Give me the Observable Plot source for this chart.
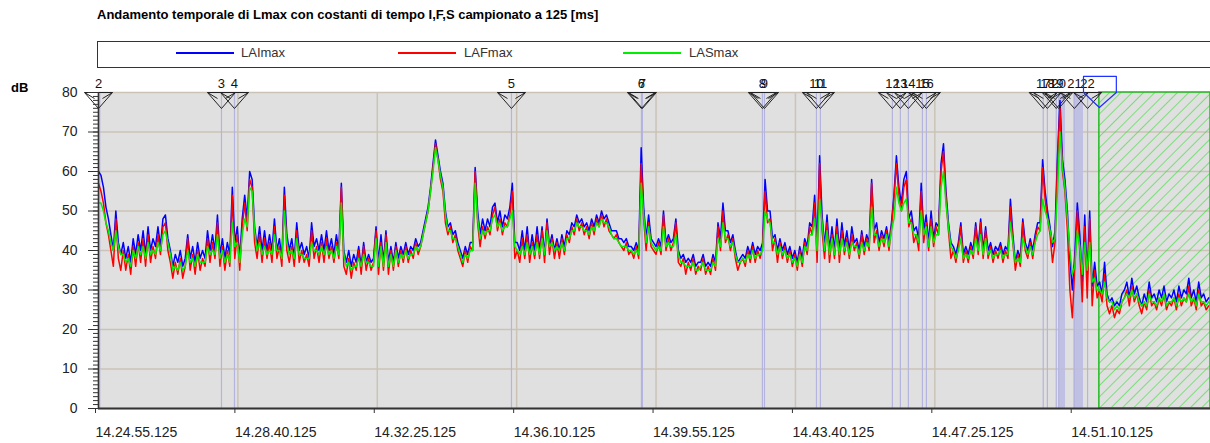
<!DOCTYPE html>
<html><head><meta charset="utf-8">
<script src="https://cdn.jsdelivr.net/npm/d3@7"></script>
<script src="https://cdn.jsdelivr.net/npm/@observablehq/plot@0.6"></script>
<style>
body{margin:0;background:#fff;font-family:"Liberation Sans",Arial,sans-serif;}
#wrap{position:relative;width:1210px;height:443px;overflow:hidden;}
#title{position:absolute;left:97px;top:7px;font-weight:bold;font-size:13px;color:#000;white-space:nowrap;}
#legend{position:absolute;left:97px;top:41px;width:1140px;height:27px;border:1.5px solid #333;box-sizing:border-box;}
.lt{position:absolute;top:3px;font-size:13px;color:#333;white-space:nowrap;}
.sw{position:absolute;top:10px;height:2px;width:58px;}
#db{position:absolute;left:11px;top:80px;font-weight:bold;font-size:13px;color:#000;}
#chart{position:absolute;left:0;top:70px;}
</style></head>
<body>
<div id="wrap">
  <div id="title"></div>
  <div id="legend"></div>
  <div id="db">dB</div>
  <div id="chart"></div>
</div>
<script>
const titleText = "Andamento temporale di Lmax con costanti di tempo I,F,S campionato a 125 [ms]";
const seriesNames = ["LAImax", "LAFmax", "LASmax"];
const seriesColors = ["#0000ff", "#ff0000", "#00ee00"];
const stepSec = 4; // one reading every 4 s, starting at 14.24.55.125

const LAImax = [
60,59,56,51,48,44,40,50,42,39, 42,38,41,37,43,39,44,40,45,39, 46,40,43,41,46,41,48,49,43,40,
36,39,37,40,36,38,44,38,41,37, 42,38,40,38,45,40,44,40,49,39, 43,38,42,39,56,42,46,38,48,54,
48,60,58,46,41,46,40,45,40,44, 40,48,40,43,38,56,44,40,43,38, 47,40,42,39,41,38,47,41,43,40,
44,40,45,40,43,39,44,40,57,40, 37,40,36,39,37,41,36,42,37,39, 37,38,46,37,44,37,45,37,41,37,
42,38,41,39,42,39,41,40,43,41, 42,45,48,51,56,62,68,64,60,57, 50,46,47,44,45,42,40,38,41,39,
42,42,61,50,44,48,45,48,46,51, 52,47,50,46,49,48,51,57,42,42, 40,45,40,46,39,44,40,46,40,46,
39,48,41,44,40,43,40,44,41,45, 44,47,46,49,47,48,46,47,45,48, 46,49,47,50,48,49,47,45,45,45,
43,43,42,43,41,41,40,42,40,66, 51,43,49,43,42,41,43,41,50,42, 44,42,43,48,40,38,39,37,38,37,
39,36,37,37,39,36,37,36,39,37, 47,43,52,45,45,42,44,40,37,38, 39,38,41,39,42,39,41,40,42,58,
50,50,43,44,40,43,40,42,39,41, 38,40,37,41,38,43,41,47,46,54, 41,64,49,41,49,40,46,40,48,40,
47,41,45,40,46,42,43,40,45,41, 44,42,58,45,47,42,45,43,46,42, 47,54,64,56,52,58,60,48,50,45,
46,43,57,45,49,42,50,43,47,46, 62,67,55,47,42,41,39,42,47,39, 41,39,42,40,47,41,48,40,46,40,
42,39,41,40,42,39,41,40,53,44, 37,40,38,48,42,40,43,40,44,47, 47,63,55,50,46,41,45,64,78,63,
58,50,38,30,39,52,44,32,49,33, 50,31,37,31,32,29,37,29,27,28, 26,27,26,29,30,32,28,33,29,31,
28,26,29,27,32,28,29,27,30,28, 31,27,29,28,30,27,31,28,30,29, 33,28,30,27,32,28,29,27,28];
const LAFmax = [
57,55,52,47,44,40,36,48,38,35, 40,35,39,34,41,36,42,37,43,36, 44,37,41,38,44,39,46,47,40,37,
33,37,34,38,33,36,43,35,39,34, 40,35,38,36,43,37,42,38,47,36, 41,35,40,36,54,38,44,35,46,52,
45,58,56,42,38,44,37,43,38,42, 37,46,38,41,36,54,40,37,41,36, 45,37,40,37,39,36,45,38,41,37,
42,37,43,38,41,37,42,38,56,36, 34,38,33,37,35,40,34,41,35,38, 35,37,45,34,42,35,44,34,40,35,
41,36,40,37,41,37,40,38,42,39, 41,44,47,50,55,61,67,63,58,55, 47,44,46,42,44,40,38,36,40,37,
41,40,60,47,41,46,43,46,44,49, 51,45,48,44,47,46,49,55,38,40, 37,43,38,44,37,42,38,44,38,45,
37,47,39,43,38,42,38,43,39,44, 42,46,44,48,45,47,44,46,43,47, 44,48,46,49,46,48,45,44,43,44,
42,41,40,42,39,40,38,41,38,62, 48,40,47,41,40,39,42,39,49,40, 43,40,42,47,37,36,38,34,37,35,
38,34,36,35,38,34,36,34,38,35, 46,40,50,42,44,40,43,38,35,37, 38,36,40,37,41,37,40,38,41,55,
47,48,40,43,37,42,38,41,37,40, 36,39,35,40,36,42,39,46,44,52, 37,62,45,38,47,37,44,38,46,37,
45,39,43,38,44,40,42,38,44,39, 43,40,57,42,45,40,44,41,45,40, 46,53,62,54,50,56,58,46,48,42,
44,40,55,42,47,40,48,41,46,44, 60,65,53,45,38,40,37,41,46,37, 40,37,41,38,46,39,47,38,45,38,
41,37,40,38,41,37,40,38,51,42, 35,39,36,47,40,38,42,38,43,46, 45,61,53,48,44,37,42,62,76,60,
55,45,30,23,36,50,40,27,46,28, 48,26,35,28,30,27,34,26,24,26, 23,25,24,27,28,30,26,31,27,29,
26,24,27,25,30,26,27,25,28,26, 29,25,27,26,28,25,29,26,28,27, 31,26,28,25,30,26,27,25,26];
const LASmax = [
52,52,50,47,45,42,40,45,41,39, 39,37,38,36,40,38,41,39,41,38, 42,39,40,39,42,40,44,45,42,39,
35,36,35,37,35,36,40,37,38,36, 39,37,37,37,41,39,40,39,44,38, 40,37,39,37,47,41,42,37,44,48,
46,56,55,45,40,42,39,41,39,40, 39,44,40,40,38,50,42,39,40,38, 43,39,39,38,38,38,42,40,40,39,
41,39,41,39,40,38,41,39,52,39, 36,37,35,36,36,38,36,39,37,37, 36,36,43,36,41,36,42,36,39,36,
40,37,39,38,40,38,39,39,41,40, 41,44,47,50,55,60,66,63,59,56, 49,45,45,43,43,41,39,37,39,38,
40,40,57,48,43,45,44,45,45,48, 49,46,47,45,46,46,48,50,41,40, 39,41,39,42,39,41,39,42,39,43,
39,45,41,42,40,41,40,42,40,43, 43,45,45,47,46,46,45,45,44,46, 45,47,46,48,47,47,46,44,43,43,
42,41,41,41,40,40,39,40,39,57, 49,42,46,42,41,40,41,40,46,41, 42,41,41,44,39,37,37,36,36,36,
37,35,35,36,37,35,35,35,37,36, 43,41,47,43,43,41,42,39,37,37, 38,37,39,38,40,38,39,39,40,50,
48,47,42,42,39,41,39,40,38,39, 37,38,36,39,37,41,40,44,44,48, 40,53,47,40,45,39,43,39,44,39,
43,40,42,39,42,41,41,39,42,40, 42,41,51,44,44,41,43,42,44,41, 45,48,56,52,50,52,53,47,47,44,
44,42,50,44,46,41,46,42,44,44, 56,60,52,46,41,40,38,40,43,38, 39,38,40,39,43,40,44,39,43,39,
40,38,39,39,40,38,39,39,47,42, 37,38,37,43,41,39,41,39,42,44, 45,53,50,48,45,42,43,55,70,61,
56,48,40,34,36,45,41,34,42,35, 42,32,33,30,30,29,32,28,27,27, 25,26,25,27,28,29,28,30,28,29,
27,26,27,26,29,27,27,26,28,27, 29,26,27,27,28,26,28,27,28,27, 29,27,28,26,29,27,27,26,27];

const yTicks = [0,10,20,30,40,50,60,70,80];
const yMinorTicks = d3.range(0, 81, 1);
const xTicks = [0,225,450,675,900,1125,1350,1575];
const xTickLabels = ["14.24.55.125","14.28.40.125","14.32.25.125","14.36.10.125","14.39.55.125","14.43.40.125","14.47.25.125","14.51.10.125"];
const xEnd = 1795;

// markers: id, start time (s), optional end time (s)
const markerIds = ["2","3","4","5","6","7","8","9","10","11","12","13","14","15","16","17","18","19","20","21","22"];
const markerStart = [0,198.5,219.5,666.6,876.4,878,1071.7,1075,1158.9,1165.3,1281.5,1294.4,1307.3,1330,1336.4,1525,1531.7,1546,1550,1575.3,1596.6];
const markerEnd   = [4,null,null,null,null,null,null,null,null,null,null,null,null,null,null,null,null,null,1561,1590,null];

// excluded (hatched) interval
const hatchStart = 1615.6;
const hatchEnd = 1795;
// selected marker cursor outline (time s, dB)
const cursorT = [1590,1643,1643,1615.6,1590,1590];
const cursorV = [84.1,84.1,80,76.2,80,84.1];

document.getElementById("title").textContent = titleText;
const legend = document.getElementById("legend");
const swLeft = [78, 300, 525], txtLeft = [143, 366, 591];
seriesNames.forEach((n, k) => {
  const s = document.createElement("div");
  s.className = "sw"; s.style.left = swLeft[k] + "px"; s.style.background = seriesColors[k];
  legend.appendChild(s);
  const t = document.createElement("div");
  t.className = "lt"; t.style.left = txtLeft[k] + "px"; t.textContent = n;
  legend.appendChild(t);
});

const rows = [];
[LAImax, LAFmax, LASmax].forEach((arr, k) => arr.forEach((v, i) => rows.push({series: seriesNames[k], t: i * stepSec, v})));
const markers = markerIds.map((id, i) => ({id, t: markerStart[i], t2: markerEnd[i]}));
const bands = markers.filter(m => m.t2 != null);
const cursor = cursorT.map((t, i) => ({t, v: cursorV[i]}));

const vSymbol = {draw(ctx) {
  ctx.moveTo(-14, 0); ctx.lineTo(0, 16); ctx.lineTo(14, 0); ctx.closePath();
  ctx.moveTo(-14, 0); ctx.lineTo(-4, 6);
  ctx.moveTo(14, 0); ctx.lineTo(4, 6);
}};

const plot = Plot.plot({
  width: 1210, height: 373,
  marginTop: 22, marginBottom: 35, marginLeft: 98, marginRight: 0,
  style: {fontFamily: "'Liberation Sans', Arial, sans-serif", fontSize: "14px", color: "#222", background: "transparent", overflow: "visible"},
  x: {domain: [0, xEnd]},
  y: {domain: [0, 80]},
  marks: [
    Plot.frame({fill: "#e0e0e0", stroke: "none"}),
    Plot.gridY(yTicks, {stroke: "#cbc3b6", strokeOpacity: 1, strokeWidth: 1.5}),
    Plot.gridX(xTicks, {stroke: "#cbc3b6", strokeOpacity: 1, strokeWidth: 1.5}),
    Plot.rect([{a: hatchStart, b: hatchEnd}], {x1: "a", x2: "b", y1: () => 0, y2: () => 80, fill: "url(#hatch)", stroke: "#22bb22", strokeWidth: 1.5}),
    Plot.rect(bands, {x1: "t", x2: "t2", y1: () => 0, y2: () => 80, fill: "#bcbce2", fillOpacity: 0.9}),
    Plot.ruleX(markers, {x: "t", y1: () => 0, y2: () => 80, stroke: "#b4b4de", strokeWidth: 1.2}),
    Plot.line(rows.filter(d => d.series === "LAImax"), {x: "t", y: "v", stroke: seriesColors[0], strokeWidth: 1.5}),
    Plot.line(rows.filter(d => d.series === "LAFmax"), {x: "t", y: "v", stroke: seriesColors[1], strokeWidth: 1.5}),
    Plot.line(rows.filter(d => d.series === "LASmax"), {x: "t", y: "v", stroke: seriesColors[2], strokeWidth: 1.5}),
    Plot.dot(markers, {x: "t", y: () => 80, symbol: vSymbol, r: 3, fill: "none", stroke: "#222", strokeWidth: 1}),
    Plot.text(markers, {x: "t", y: () => 80, text: "id", dy: -9, fontSize: 13, fill: "#111"}),
    Plot.line(cursor, {x: "t", y: "v", stroke: "#2030ff", strokeWidth: 1.2, clip: false}),
    Plot.ruleX([0], {stroke: "#333", strokeWidth: 1.5}),
    Plot.ruleY([0], {stroke: "#333", strokeWidth: 2}),
    Plot.axisY(yMinorTicks, {tickSize: 5, fill: "none", stroke: "#333"}),
    Plot.axisY(yTicks, {tickSize: 10, tickPadding: 11, stroke: "#333", fill: "#222", fontSize: 14, label: null}),
    Plot.axisX(xTicks, {tickSize: 5, tickPadding: 14, stroke: "#333", fill: "#222", fontSize: 14, textAnchor: "start", dx: -3, label: null,
      tickFormat: d => xTickLabels[xTicks.indexOf(d)]})
  ]
});
plot.insertAdjacentHTML("afterbegin",
  "<defs><pattern id='hatch' patternUnits='userSpaceOnUse' width='8' height='8' patternTransform='rotate(45)'>" +
  "<line x1='0' y1='0' x2='0' y2='8' stroke='#33dd33' stroke-width='1.2'/></pattern></defs>");
document.getElementById("chart").appendChild(plot);
</script>
</body></html>
